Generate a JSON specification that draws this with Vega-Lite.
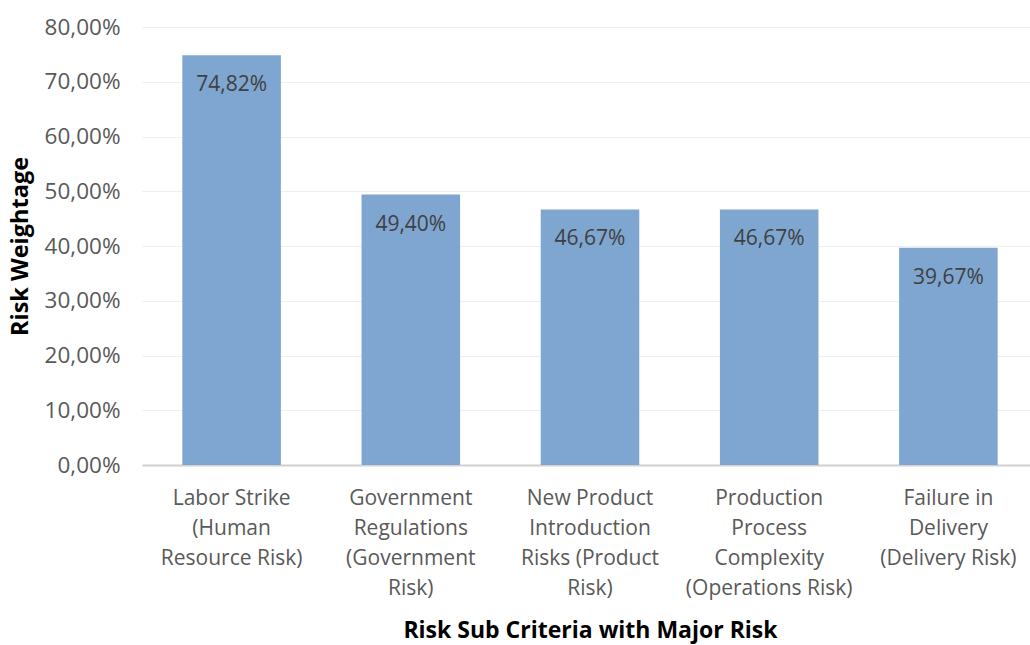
{
  "$schema": "https://vega.github.io/schema/vega-lite/v6.json",
  "autosize": "none",
  "width": 896,
  "height": 438,
  "padding": {"left": 142, "top": 27, "right": 0, "bottom": 180},
  "background": "white",
  "config": {
    "locale": {"number": {"decimal": ",", "thousands": ".", "grouping": [3], "currency": ["", "€"]}},
    "view": {"stroke": null},
    "font": "Open Sans"
  },
  "data": {
    "values": [
      {"criteria": "Labor Strike|(Human|Resource Risk)", "weight": 0.7482},
      {"criteria": "Government|Regulations|(Government|Risk)", "weight": 0.4940},
      {"criteria": "New Product|Introduction|Risks (Product|Risk)", "weight": 0.4667},
      {"criteria": "Production|Process|Complexity|(Operations Risk)", "weight": 0.4667},
      {"criteria": "Failure in|Delivery|(Delivery Risk)", "weight": 0.3967}
    ]
  },
  "encoding": {
    "x": {
      "field": "criteria", "type": "nominal", "sort": null,
      "scale": {"paddingInner": 0.45, "paddingOuter": 0.225},
      "axis": {
        "title": "Risk Sub Criteria with Major Risk",
        "labelExpr": "split(datum.label, '|')",
        "labelAngle": 0,
        "labelFont": "Open Sans", "labelFontSize": 21, "labelColor": "#595959",
        "labelLineHeight": 30, "labelPadding": 22, "labelBaseline": "top",
        "ticks": false, "domainColor": "#d0d0d0", "domainWidth": 2,
        "titleFont": "Open Sans", "titleFontSize": 23, "titleFontWeight": "bold", "titleColor": "#000000",
        "titlePadding": 21
      }
    },
    "y": {
      "field": "weight", "type": "quantitative",
      "scale": {"domain": [0, 0.8], "nice": false},
      "axis": {
        "title": "Risk Weightage",
        "format": ".2%",
        "values": [0, 0.1, 0.2, 0.3, 0.4, 0.5, 0.6, 0.7, 0.8],
        "labelFont": "Open Sans", "labelFontSize": 22.5, "labelColor": "#595959",
        "labelPadding": 22, "ticks": false, "domain": false,
        "gridColor": "#efefef", "gridWidth": 1,
        "titleFont": "Open Sans", "titleFontSize": 23.5, "titleFontWeight": "bold", "titleColor": "#000000",
        "titlePadding": 12
      }
    }
  },
  "layer": [
    {"mark": {"type": "bar", "color": "#7fa6d0"}},
    {
      "mark": {"type": "text", "baseline": "top", "dy": 19, "fontSize": 21, "color": "#404040", "font": "Open Sans"},
      "encoding": {"text": {"field": "weight", "type": "quantitative", "format": ".2%"}}
    }
  ]
}
